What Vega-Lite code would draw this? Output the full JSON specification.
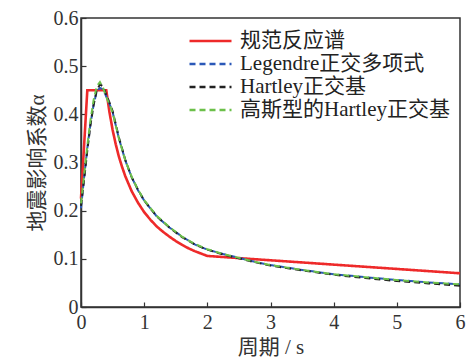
{
  "$schema": "https://vega.github.io/schema/vega-lite/v6.json",
  "width": 379,
  "height": 289,
  "autosize": {"type": "none"},
  "padding": {"left": 81, "top": 18, "right": 7, "bottom": 51},
  "background": "white",
  "datasets": {
    "code": [
      {"T": 0, "a": 0.225, "s": "规范反应谱"},
      {"T": 0.1, "a": 0.45, "s": "规范反应谱"},
      {"T": 0.4, "a": 0.45, "s": "规范反应谱"},
      {"T": 0.45, "a": 0.405, "s": "规范反应谱"},
      {"T": 0.5, "a": 0.368, "s": "规范反应谱"},
      {"T": 0.55, "a": 0.338, "s": "规范反应谱"},
      {"T": 0.6, "a": 0.312, "s": "规范反应谱"},
      {"T": 0.65, "a": 0.291, "s": "规范反应谱"},
      {"T": 0.7, "a": 0.272, "s": "规范反应谱"},
      {"T": 0.8, "a": 0.241, "s": "规范反应谱"},
      {"T": 0.9, "a": 0.217, "s": "规范反应谱"},
      {"T": 1.0, "a": 0.197, "s": "规范反应谱"},
      {"T": 1.1, "a": 0.181, "s": "规范反应谱"},
      {"T": 1.2, "a": 0.167, "s": "规范反应谱"},
      {"T": 1.3, "a": 0.156, "s": "规范反应谱"},
      {"T": 1.4, "a": 0.146, "s": "规范反应谱"},
      {"T": 1.5, "a": 0.137, "s": "规范反应谱"},
      {"T": 1.6, "a": 0.129, "s": "规范反应谱"},
      {"T": 1.7, "a": 0.122, "s": "规范反应谱"},
      {"T": 1.8, "a": 0.116, "s": "规范反应谱"},
      {"T": 1.9, "a": 0.111, "s": "规范反应谱"},
      {"T": 2.0, "a": 0.106, "s": "规范反应谱"},
      {"T": 6.0, "a": 0.070, "s": "规范反应谱"}
    ],
    "fit": [
      {"T": 0, "a": 0.205, "s": "Legendre正交多项式"},
      {"T": 0.05, "a": 0.27, "s": "Legendre正交多项式"},
      {"T": 0.1, "a": 0.33, "s": "Legendre正交多项式"},
      {"T": 0.15, "a": 0.38, "s": "Legendre正交多项式"},
      {"T": 0.2, "a": 0.42, "s": "Legendre正交多项式"},
      {"T": 0.25, "a": 0.448, "s": "Legendre正交多项式"},
      {"T": 0.3, "a": 0.455, "s": "Legendre正交多项式"},
      {"T": 0.35, "a": 0.452, "s": "Legendre正交多项式"},
      {"T": 0.4, "a": 0.437, "s": "Legendre正交多项式"},
      {"T": 0.45, "a": 0.422, "s": "Legendre正交多项式"},
      {"T": 0.5, "a": 0.405, "s": "Legendre正交多项式"},
      {"T": 0.6, "a": 0.35, "s": "Legendre正交多项式"},
      {"T": 0.7, "a": 0.305, "s": "Legendre正交多项式"},
      {"T": 0.8, "a": 0.27, "s": "Legendre正交多项式"},
      {"T": 0.9, "a": 0.243, "s": "Legendre正交多项式"},
      {"T": 1.0, "a": 0.221, "s": "Legendre正交多项式"},
      {"T": 1.2, "a": 0.188, "s": "Legendre正交多项式"},
      {"T": 1.4, "a": 0.165, "s": "Legendre正交多项式"},
      {"T": 1.6, "a": 0.146, "s": "Legendre正交多项式"},
      {"T": 1.8, "a": 0.130, "s": "Legendre正交多项式"},
      {"T": 2.0, "a": 0.119, "s": "Legendre正交多项式"},
      {"T": 2.25, "a": 0.110, "s": "Legendre正交多项式"},
      {"T": 2.5, "a": 0.102, "s": "Legendre正交多项式"},
      {"T": 2.75, "a": 0.094, "s": "Legendre正交多项式"},
      {"T": 3.0, "a": 0.087, "s": "Legendre正交多项式"},
      {"T": 3.5, "a": 0.077, "s": "Legendre正交多项式"},
      {"T": 4.0, "a": 0.068, "s": "Legendre正交多项式"},
      {"T": 4.5, "a": 0.062, "s": "Legendre正交多项式"},
      {"T": 5.0, "a": 0.056, "s": "Legendre正交多项式"},
      {"T": 5.5, "a": 0.051, "s": "Legendre正交多项式"},
      {"T": 6.0, "a": 0.047, "s": "Legendre正交多项式"},
      {"T": 0, "a": 0.21, "s": "Hartley正交基"},
      {"T": 0.05, "a": 0.265, "s": "Hartley正交基"},
      {"T": 0.1, "a": 0.325, "s": "Hartley正交基"},
      {"T": 0.15, "a": 0.378, "s": "Hartley正交基"},
      {"T": 0.2, "a": 0.42, "s": "Hartley正交基"},
      {"T": 0.25, "a": 0.45, "s": "Hartley正交基"},
      {"T": 0.3, "a": 0.462, "s": "Hartley正交基"},
      {"T": 0.35, "a": 0.458, "s": "Hartley正交基"},
      {"T": 0.4, "a": 0.44, "s": "Hartley正交基"},
      {"T": 0.45, "a": 0.425, "s": "Hartley正交基"},
      {"T": 0.5, "a": 0.407, "s": "Hartley正交基"},
      {"T": 0.6, "a": 0.352, "s": "Hartley正交基"},
      {"T": 0.7, "a": 0.306, "s": "Hartley正交基"},
      {"T": 0.8, "a": 0.27, "s": "Hartley正交基"},
      {"T": 0.9, "a": 0.244, "s": "Hartley正交基"},
      {"T": 1.0, "a": 0.221, "s": "Hartley正交基"},
      {"T": 1.2, "a": 0.188, "s": "Hartley正交基"},
      {"T": 1.4, "a": 0.165, "s": "Hartley正交基"},
      {"T": 1.6, "a": 0.145, "s": "Hartley正交基"},
      {"T": 1.8, "a": 0.130, "s": "Hartley正交基"},
      {"T": 2.0, "a": 0.119, "s": "Hartley正交基"},
      {"T": 2.25, "a": 0.109, "s": "Hartley正交基"},
      {"T": 2.5, "a": 0.101, "s": "Hartley正交基"},
      {"T": 2.75, "a": 0.093, "s": "Hartley正交基"},
      {"T": 3.0, "a": 0.086, "s": "Hartley正交基"},
      {"T": 3.5, "a": 0.076, "s": "Hartley正交基"},
      {"T": 4.0, "a": 0.067, "s": "Hartley正交基"},
      {"T": 4.5, "a": 0.060, "s": "Hartley正交基"},
      {"T": 5.0, "a": 0.054, "s": "Hartley正交基"},
      {"T": 5.5, "a": 0.049, "s": "Hartley正交基"},
      {"T": 6.0, "a": 0.044, "s": "Hartley正交基"},
      {"T": 0, "a": 0.215, "s": "高斯型的Hartley正交基"},
      {"T": 0.05, "a": 0.275, "s": "高斯型的Hartley正交基"},
      {"T": 0.1, "a": 0.335, "s": "高斯型的Hartley正交基"},
      {"T": 0.15, "a": 0.388, "s": "高斯型的Hartley正交基"},
      {"T": 0.2, "a": 0.43, "s": "高斯型的Hartley正交基"},
      {"T": 0.25, "a": 0.458, "s": "高斯型的Hartley正交基"},
      {"T": 0.3, "a": 0.467, "s": "高斯型的Hartley正交基"},
      {"T": 0.35, "a": 0.455, "s": "高斯型的Hartley正交基"},
      {"T": 0.4, "a": 0.436, "s": "高斯型的Hartley正交基"},
      {"T": 0.45, "a": 0.421, "s": "高斯型的Hartley正交基"},
      {"T": 0.5, "a": 0.404, "s": "高斯型的Hartley正交基"},
      {"T": 0.6, "a": 0.35, "s": "高斯型的Hartley正交基"},
      {"T": 0.7, "a": 0.305, "s": "高斯型的Hartley正交基"},
      {"T": 0.8, "a": 0.271, "s": "高斯型的Hartley正交基"},
      {"T": 0.9, "a": 0.244, "s": "高斯型的Hartley正交基"},
      {"T": 1.0, "a": 0.222, "s": "高斯型的Hartley正交基"},
      {"T": 1.2, "a": 0.189, "s": "高斯型的Hartley正交基"},
      {"T": 1.4, "a": 0.166, "s": "高斯型的Hartley正交基"},
      {"T": 1.6, "a": 0.146, "s": "高斯型的Hartley正交基"},
      {"T": 1.8, "a": 0.131, "s": "高斯型的Hartley正交基"},
      {"T": 2.0, "a": 0.120, "s": "高斯型的Hartley正交基"},
      {"T": 2.25, "a": 0.110, "s": "高斯型的Hartley正交基"},
      {"T": 2.5, "a": 0.102, "s": "高斯型的Hartley正交基"},
      {"T": 2.75, "a": 0.094, "s": "高斯型的Hartley正交基"},
      {"T": 3.0, "a": 0.087, "s": "高斯型的Hartley正交基"},
      {"T": 3.5, "a": 0.077, "s": "高斯型的Hartley正交基"},
      {"T": 4.0, "a": 0.068, "s": "高斯型的Hartley正交基"},
      {"T": 4.5, "a": 0.062, "s": "高斯型的Hartley正交基"},
      {"T": 5.0, "a": 0.056, "s": "高斯型的Hartley正交基"},
      {"T": 5.5, "a": 0.051, "s": "高斯型的Hartley正交基"},
      {"T": 6.0, "a": 0.047, "s": "高斯型的Hartley正交基"}
    ]
  },
  "encoding": {
    "x": {
      "field": "T", "type": "quantitative",
      "scale": {"domain": [0, 6], "nice": false, "zero": false},
      "axis": {"title": "周期 / s", "values": [0, 1, 2, 3, 4, 5, 6], "grid": false}
    },
    "y": {
      "field": "a", "type": "quantitative",
      "scale": {"domain": [0, 0.6], "nice": false},
      "axis": {
        "title": "地震影响系数α",
        "values": [0, 0.1, 0.2, 0.3, 0.4, 0.5, 0.6],
        "labelExpr": "datum.value == 0 ? '0' : format(datum.value, '.1f')",
        "grid": false
      }
    },
    "color": {
      "field": "s", "type": "nominal",
      "scale": {
        "domain": ["规范反应谱", "Legendre正交多项式", "Hartley正交基", "高斯型的Hartley正交基"],
        "range": ["#ee2a2a", "#2b58b8", "#222222", "#6cc04a"]
      },
      "legend": {"title": null}
    },
    "strokeDash": {
      "field": "s", "type": "nominal",
      "scale": {
        "domain": ["规范反应谱", "Legendre正交多项式", "Hartley正交基", "高斯型的Hartley正交基"],
        "range": [[1, 0], [6, 4], [6, 4], [6, 4]]
      },
      "legend": {"title": null}
    }
  },
  "layer": [
    {"data": {"name": "code"}, "mark": {"type": "line", "strokeWidth": 2.6}},
    {"data": {"name": "fit"}, "mark": {"type": "line", "strokeWidth": 2}}
  ],
  "config": {
    "font": "Liberation Serif, Noto Sans CJK SC",
    "view": {"stroke": "#333333", "strokeWidth": 1.5},
    "axis": {
      "domainColor": "#333333",
      "domainWidth": 1.5,
      "tickColor": "#333333",
      "tickWidth": 1.2,
      "tickSize": -5,
      "labelFont": "Liberation Serif",
      "labelFontSize": 20,
      "labelColor": "#333333",
      "titleFont": "Liberation Serif, Noto Sans CJK SC",
      "titleFontSize": 21,
      "titleFontWeight": "normal",
      "titleColor": "#333333"
    },
    "axisX": {"labelPadding": 10, "titlePadding": 4, "labelFlush": false},
    "axisY": {"labelPadding": 8, "titlePadding": 6, "labelFlush": false},
    "legend": {
      "orient": "none",
      "legendX": 117.5,
      "legendY": 11,
      "symbolType": "M-2,0H2",
      "symbolSize": 441,
      "symbolStrokeWidth": 2.5,
      "labelFont": "Liberation Serif, Noto Sans CJK SC",
      "labelFontSize": 21,
      "labelColor": "#222222",
      "labelLimit": 400,
      "labelOffset": 17.5,
      "rowPadding": 1
    }
  }
}
